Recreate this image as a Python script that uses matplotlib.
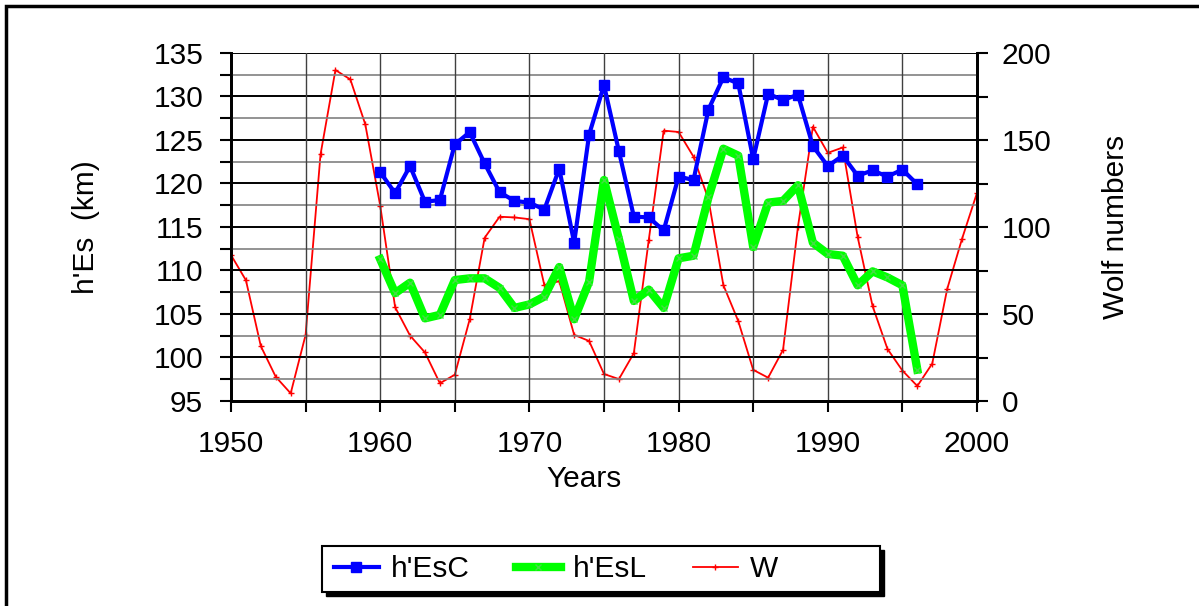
import numpy as np
import matplotlib.pyplot as plt
from matplotlib.patches import Rectangle
from matplotlib.ticker import MultipleLocator

plt.rcParams['font.family'] = ['Liberation Sans', 'DejaVu Sans']

# h'Es data (km), 1960-1996
years_es = list(range(1960, 1997))
h_esc = [121.3, 118.9, 122.0, 117.9, 118.1, 124.5, 125.9, 122.3, 119.0, 118.0,
         117.8, 117.0, 121.7, 113.2, 125.6, 131.3, 123.7, 116.2, 116.1, 114.6,
         120.8, 120.4, 128.5, 132.2, 131.5, 122.8, 130.3, 129.6, 130.2, 124.3,
         122.0, 123.2, 120.9, 121.5, 120.8, 121.6, 119.9]
h_esl = [111.3, 107.4, 108.6, 104.5, 104.9, 108.9, 109.1, 109.1, 108.0, 105.7,
         106.1, 107.0, 110.4, 104.4, 108.7, 120.4, 113.6, 106.5, 107.8, 105.7,
         111.4, 111.7, 118.4, 124.0, 123.2, 112.7, 117.8, 118.0, 119.8, 113.2,
         111.9, 111.7, 108.3, 109.9, 109.2, 108.3, 98.6]

# Wolf numbers, 1950-2000
years_w = list(range(1950, 2001))
wolf = [83.9, 69.4, 31.5, 13.9, 4.4, 38.0, 141.7, 190.2, 184.8, 159.0,
        112.3, 53.9, 37.6, 27.9, 10.2, 15.1, 47.0, 93.8, 105.9, 105.5,
        104.5, 66.6, 68.9, 38.0, 34.5, 15.5, 12.6, 27.5, 92.5, 155.4,
        154.6, 140.4, 115.9, 66.6, 45.9, 17.9, 13.4, 29.4, 100.2, 157.6,
        142.6, 145.7, 94.3, 54.6, 29.9, 17.5, 8.6, 21.5, 64.3, 93.3,
        119.6]

W, H = 1199, 606
fs = 21.5
fig = plt.figure(figsize=(W/100, H/100), dpi=100)
ax = fig.add_axes([231/W, 1-401/H, (977-231)/W, (401-53)/H])
ax2 = ax.twinx()

# outer frame
fig.patches.append(Rectangle((6/W, -0.02), 1.05, 1-6/H+0.02, transform=fig.transFigure,
                             fill=False, edgecolor='black', lw=2.5, zorder=0))

ax.set_xlim(1950, 2000)
ax.set_ylim(95, 135)
ax2.set_ylim(0, 200)

# grid
for v in np.arange(95, 135.1, 2.5):
    col = 'black' if v % 5 == 0 else '#808080'
    ax.axhline(v, color=col, lw=1.4 if v % 5 == 0 else 1.2, zorder=0)
for yr in range(1955, 2000, 5):
    ax.axvline(yr, color='#404040', lw=1.0, zorder=0)

ax.xaxis.set_major_locator(MultipleLocator(10))
ax.xaxis.set_minor_locator(MultipleLocator(5))
ax.yaxis.set_major_locator(MultipleLocator(5))
ax.yaxis.set_minor_locator(MultipleLocator(2.5))
ax2.yaxis.set_major_locator(MultipleLocator(50))
ax2.yaxis.set_minor_locator(MultipleLocator(25))

ax.tick_params(axis='both', which='major', labelsize=fs, length=8, width=1.5, direction='out')
ax.tick_params(axis='both', which='minor', length=8, width=1.5, direction='out')
ax.tick_params(axis='x', pad=13)
ax.tick_params(axis='y', pad=12)
ax2.tick_params(axis='y', which='major', labelsize=fs, length=8, width=1.5, direction='out', pad=10)
ax2.tick_params(axis='y', which='minor', length=8, width=1.5, direction='out')

for a in (ax, ax2):
    a.spines['top'].set_visible(False)
    a.spines['left'].set_linewidth(2)
    a.spines['right'].set_linewidth(2)
    a.spines['bottom'].set_linewidth(2)

l3, = ax2.plot(years_w, wolf, color='#FF0000', lw=1.3, marker='+', ms=5, mew=1, zorder=3)
l2, = ax.plot(years_es, h_esl, color='#00FF00', lw=6, marker='x', ms=4, mew=1,
              mec='#44DD44', zorder=4)
l1, = ax.plot(years_es, h_esc, color='#0000FF', lw=3, marker='s', ms=7, zorder=5)
ax.set_zorder(ax2.get_zorder() + 1)
ax.patch.set_visible(False)
ax2.set_zorder(0)

ax.set_ylabel("h'Es  (km)", fontsize=fs)
ax.yaxis.set_label_coords(-(231-100)/(977-231), 0.5)
ax2.set_ylabel("Wolf numbers", fontsize=fs, labelpad=36)
ax.set_xlabel("Years", fontsize=fs)
ax.xaxis.set_label_coords((584-231)/(977-231), -0.185)

# legend box drawn by hand (wider than its content, with a shadow)
bx0, bx1, by0, by1 = 322, 880, 546, 592
fig.patches.append(Rectangle(((bx0+4)/W, 1-(by1+4)/H), (bx1-bx0)/W, (by1-by0)/H,
                             transform=fig.transFigure, facecolor='black',
                             edgecolor='black', lw=1, zorder=5))
fig.patches.append(Rectangle((bx0/W, 1-by1/H), (bx1-bx0)/W, (by1-by0)/H,
                             transform=fig.transFigure, facecolor='white',
                             edgecolor='black', lw=1.5, zorder=6))
leg = fig.legend([l1, l2, l3], ["h'EsC", "h'EsL", "W"], ncol=3, fontsize=fs,
                 loc='center left', bbox_to_anchor=(316/W, 1-569/H),
                 frameon=False, handlelength=1.5, columnspacing=1.55,
                 handletextpad=0.4, borderpad=0.1)
leg.set_zorder(7)

fig.savefig('out.png', dpi=100)
